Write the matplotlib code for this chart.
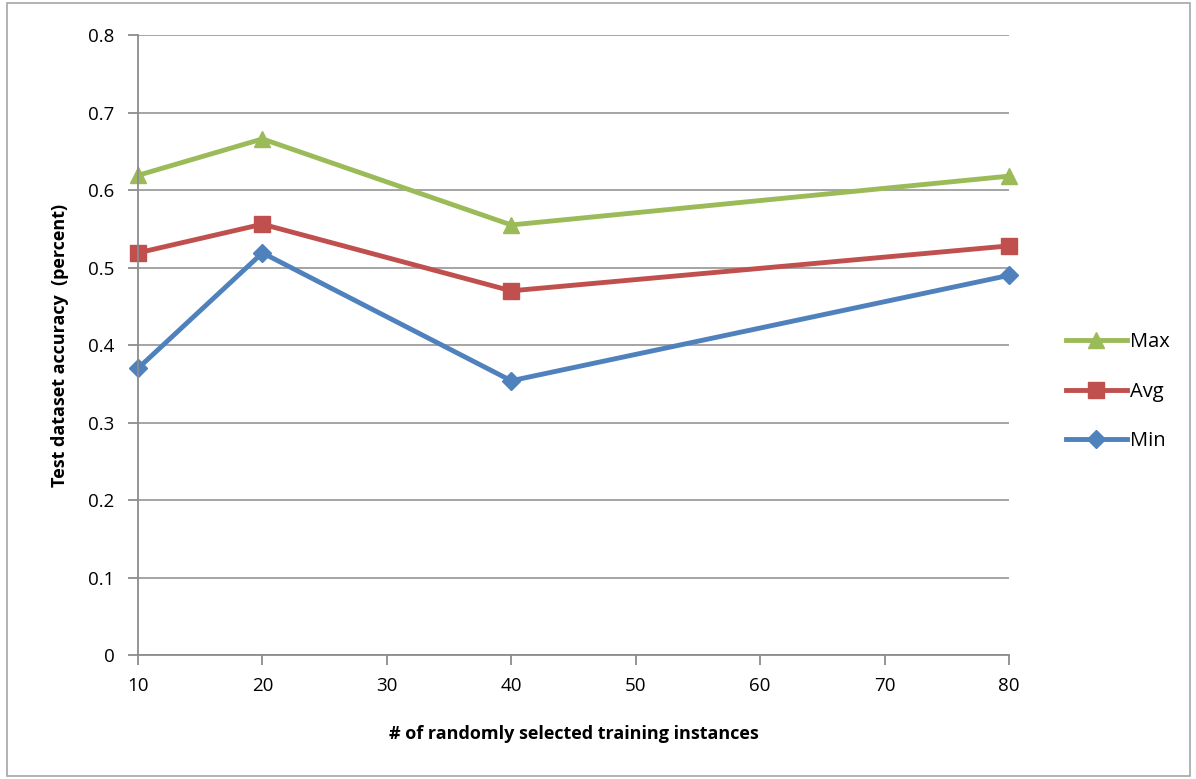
import matplotlib
matplotlib.use("Agg")
import matplotlib.pyplot as plt
from matplotlib.patches import Rectangle

plt.rcParams['font.family'] = ['Open Sans', 'DejaVu Sans']

# data
instances = [10, 20, 40, 80]
acc_max = [0.619, 0.666, 0.555, 0.618]
acc_avg = [0.519, 0.556, 0.470, 0.528]
acc_min = [0.370, 0.519, 0.354, 0.490]

fig = plt.figure(figsize=(11.96, 7.79), dpi=100)
ax = fig.add_axes([0.1154, 0.159, 0.7282, 0.796])

# outer chart frame like the Excel chart area
fig.patches.append(Rectangle((0.006, 0.004), 0.989, 0.992, transform=fig.transFigure,
                             fill=False, edgecolor='#a6a6a6', linewidth=1.2))

ax.plot(instances, acc_max, color='#9BBB59', lw=3.5, marker='^', ms=12, label='Max', clip_on=False)
ax.plot(instances, acc_avg, color='#C0504D', lw=3.5, marker='s', ms=11, label='Avg', clip_on=False)
ax.plot(instances, acc_min, color='#4F81BD', lw=3.5, marker='D', ms=9, label='Min', clip_on=False)

ax.set_xlim(10, 80)
ax.set_ylim(0, 0.8)
ax.set_xticks(range(10, 81, 10))
ax.set_yticks([i / 10 for i in range(9)])
ax.set_yticklabels(['0'] + ['%.1f' % (i / 10) for i in range(1, 9)])

ax.yaxis.grid(True, color='#8c8c8c', lw=1.1)
ax.set_axisbelow(True)
for s in ['top', 'right']:
    ax.spines[s].set_visible(False)
ax.spines['left'].set_color('#8c8c8c')
ax.spines['bottom'].set_color('#8c8c8c')
ax.spines['left'].set_linewidth(1.3)
ax.spines['bottom'].set_linewidth(1.3)
ax.tick_params(axis='both', colors='#8c8c8c', labelcolor='black', labelsize=13.5,
               length=7, width=1.3)
ax.tick_params(axis='x', pad=9)
ax.tick_params(axis='y', pad=10)

ax.set_xlabel('# of randomly selected training instances', fontsize=13,
              fontweight='bold', labelpad=21)
ax.set_ylabel('Test dataset accuracy  (percent)', fontsize=13,
              fontweight='bold', labelpad=14)

ax.legend(loc='center left', bbox_to_anchor=(1.045, 0.425), frameon=False,
          fontsize=14.5, handlelength=3.0, labelspacing=1.45, handletextpad=0.15)

fig.savefig('out.png', dpi=100)
